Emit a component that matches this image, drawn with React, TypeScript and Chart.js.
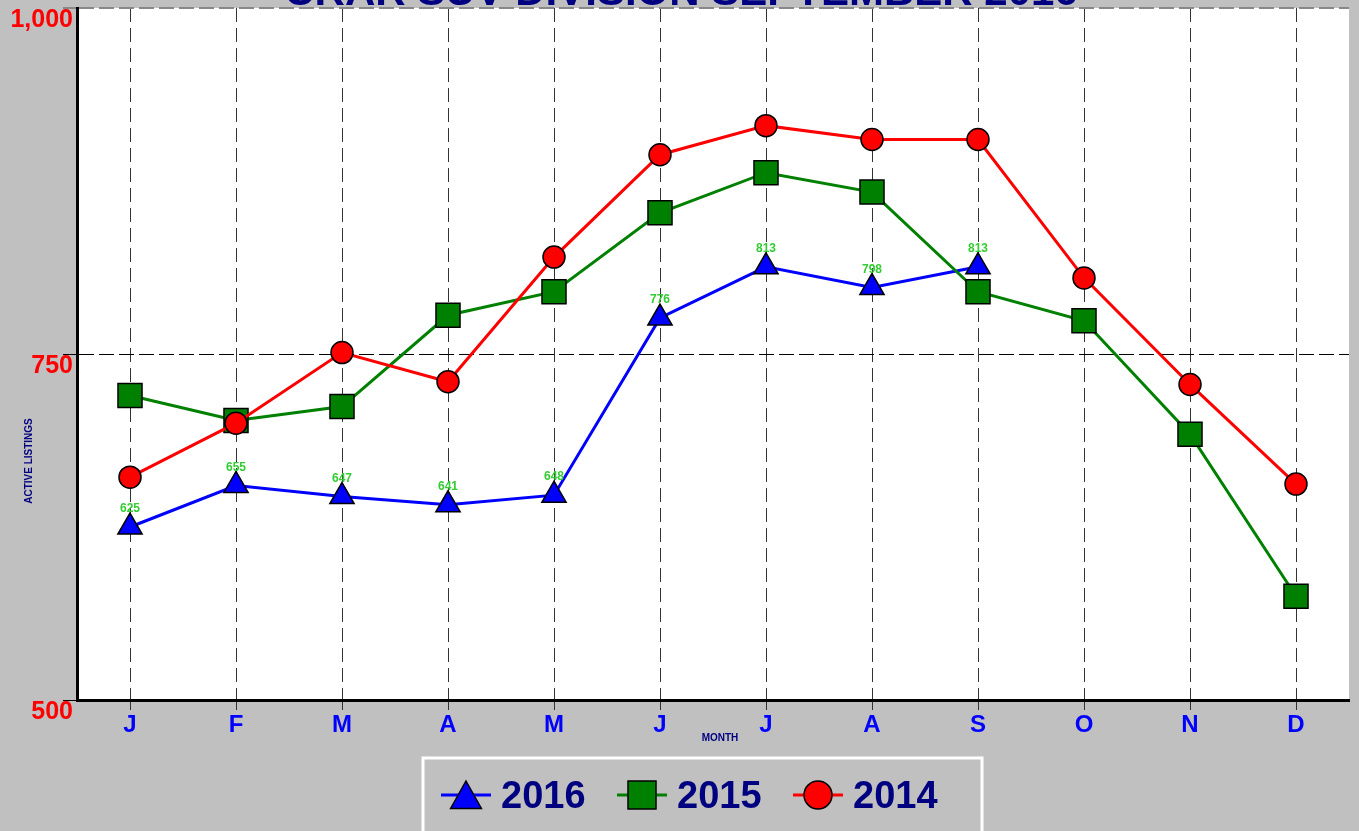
import React, { useEffect, useRef } from 'react';
import { Chart, registerables } from 'chart.js';

Chart.register(...registerables);

const chartTitle = 'CRAR SUV DIVISION SEPTEMBER 2016';
const months = ['J', 'F', 'M', 'A', 'M', 'J', 'J', 'A', 'S', 'O', 'N', 'D'];
const series2016 = [625, 655, 647, 641, 648, 776, 813, 798, 813, null, null, null];
const series2015 = [720, 702, 712, 778, 795, 852, 881, 867, 795, 774, 692, 575];
const series2014 = [661, 700, 751, 730, 820, 894, 915, 905, 905, 805, 728, 656];
const seriesLabels = ['2016', '2015', '2014'];
const seriesColors = ['#0000ff', '#008000', '#ff0000'];
const seriesShapes = ['triangle', 'rect', 'circle'];
const yTickValues = [500, 750, 1000];
const yTickLabels = ['500', '750', '1,000'];
const yAxisTitle = 'ACTIVE LISTINGS';
const xAxisTitle = 'MONTH';

const FONT = "'Liberation Sans', Arial, sans-serif";
const NAVY = '#000080';

function drawShape(ctx: CanvasRenderingContext2D, shape: string, x: number, y: number, s: number, color: string) {
  ctx.save();
  ctx.fillStyle = color;
  ctx.strokeStyle = '#000';
  ctx.lineWidth = 1.5;
  ctx.beginPath();
  if (shape === 'triangle') {
    ctx.moveTo(x, y - s * 0.5);
    ctx.lineTo(x + s * 0.55, y + s * 0.48);
    ctx.lineTo(x - s * 0.55, y + s * 0.48);
    ctx.closePath();
  } else if (shape === 'rect') {
    ctx.rect(x - s / 2, y - s / 2, s, s);
  } else {
    ctx.arc(x, y, s / 2, 0, Math.PI * 2);
  }
  ctx.fill();
  ctx.stroke();
  ctx.restore();
}

const decorPlugin = {
  id: 'decor',
  beforeDraw(chart: any) {
    const { ctx, chartArea, width, height } = chart;
    ctx.save();
    ctx.fillStyle = '#c0c0c0';
    ctx.fillRect(0, 0, width, height);
    ctx.fillStyle = '#ffffff';
    ctx.fillRect(chartArea.left, chartArea.top, chartArea.right - chartArea.left, chartArea.bottom - chartArea.top);
    ctx.restore();
  },
  afterDraw(chart: any) {
    const { ctx } = chart;
    ctx.save();
    // title (mostly cut off at top)
    ctx.fillStyle = NAVY;
    ctx.font = `bold 42px ${FONT}`;
    ctx.textAlign = 'center';
    ctx.textBaseline = 'alphabetic';
    ctx.fillText(chartTitle, 681, 5);

    // y axis title
    ctx.save();
    ctx.translate(29, 461);
    ctx.rotate(-Math.PI / 2);
    ctx.font = `bold 10px ${FONT}`;
    ctx.fillStyle = NAVY;
    ctx.textAlign = 'center';
    ctx.textBaseline = 'middle';
    ctx.fillText(yAxisTitle, 0, 0);
    ctx.restore();

    // x axis title
    ctx.font = `bold 10px ${FONT}`;
    ctx.fillStyle = NAVY;
    ctx.textAlign = 'center';
    ctx.textBaseline = 'middle';
    ctx.fillText(xAxisTitle, 720, 738);

    // data labels for 2016
    const meta = chart.getDatasetMeta(0);
    ctx.font = `bold 12px ${FONT}`;
    ctx.fillStyle = '#33cc33';
    meta.data.forEach((pt: any, i: number) => {
      const v = series2016[i];
      if (v === null || v === undefined) return;
      ctx.fillText(String(v), pt.x, pt.y - 18);
    });

    // legend box
    ctx.strokeStyle = '#ffffff';
    ctx.lineWidth = 3;
    ctx.strokeRect(423, 758, 559, 90);
    seriesLabels.forEach((lab, i) => {
      const x0 = 441 + i * 176;
      const cy = 795;
      ctx.strokeStyle = seriesColors[i];
      ctx.lineWidth = 3;
      ctx.beginPath();
      ctx.moveTo(x0, cy);
      ctx.lineTo(x0 + 50, cy);
      ctx.stroke();
      drawShape(ctx, seriesShapes[i], x0 + 25, cy, 28, seriesColors[i]);
      ctx.fillStyle = NAVY;
      ctx.font = `bold 38px ${FONT}`;
      ctx.textAlign = 'left';
      ctx.textBaseline = 'alphabetic';
      ctx.fillText(lab, x0 + 60, 808);
    });
    ctx.restore();
  },
};

export default function App() {
  const canvasRef = useRef<HTMLCanvasElement | null>(null);

  useEffect(() => {
    document.body.style.margin = '0';
    const canvas = canvasRef.current;
    if (!canvas) return;
    const seriesData = [series2016, series2015, series2014];
    const radii = [14, 17, 11];
    const chart = new Chart(canvas, {
      type: 'line',
      data: {
        labels: months,
        datasets: seriesLabels.map((lab, i) => ({
          label: lab,
          data: seriesData[i],
          borderColor: seriesColors[i],
          backgroundColor: seriesColors[i],
          borderWidth: 3,
          pointStyle: seriesShapes[i] as any,
          pointRadius: radii[i],
          pointHoverRadius: radii[i],
          pointBorderColor: '#000',
          pointBorderWidth: 1.5,
          pointBackgroundColor: seriesColors[i],
          tension: 0,
          spanGaps: false,
          clip: false,
          order: 2 - i,
        })),
      },
      options: {
        responsive: false,
        maintainAspectRatio: false,
        animation: false,
        devicePixelRatio: 1,
        layout: { autoPadding: false, padding: { top: 8, right: 10, left: 0, bottom: 0 } },
        plugins: {
          legend: { display: false },
          title: { display: false },
          tooltip: { enabled: false },
        },
        scales: {
          x: {
            type: 'category',
            offset: true,
            grid: { display: true, offset: false, color: '#333', lineWidth: 1, tickLength: 10, drawTicks: true },
            border: { display: true, color: '#000', width: 3, dash: [14, 6] },
            ticks: {
              color: '#0000ff',
              font: { family: FONT, size: 24, weight: 700 },
              padding: 1,
              autoSkip: false,
              maxRotation: 0,
            },
            afterFit: (s: any) => {
              s.height = 131;
              s.paddingLeft = 0;
              s.paddingRight = 0;
            },
          },
          y: {
            min: 500,
            max: 1000,
            afterBuildTicks: (s: any) => { s.ticks = yTickValues.map((v) => ({ value: v })); },
            grid: {
              color: (c: any) => (c.tick && c.tick.value === 1000 ? '#888' : '#000'),
              lineWidth: (c: any) => (c.tick && c.tick.value === 1000 ? 2 : 1),
              tickLength: 14,
            },
            border: { display: true, color: '#000', width: 3, dash: [15, 5] },
            ticks: {
              color: '#ff0000',
              font: { family: FONT, size: 25, weight: 700 },
              padding: -10,
              align: 'start',
              callback: (v: any) => yTickLabels[yTickValues.indexOf(Number(v))],
            },
            afterFit: (s: any) => {
              s.width = 77;
              s.paddingTop = 0;
              s.paddingBottom = 0;
            },
          },
        },
      } as any,
      plugins: [decorPlugin],
    });
    return () => chart.destroy();
  }, []);

  return (
    <div style={{ width: 1359, height: 831, position: 'relative' }}>
      <canvas ref={canvasRef} width={1359} height={831} />
    </div>
  );
}
